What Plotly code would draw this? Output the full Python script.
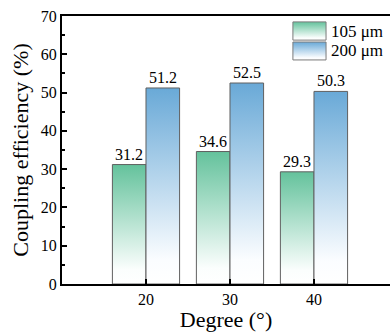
import plotly.graph_objects as go

degrees = [20, 30, 40]
eff_105 = [31.2, 34.6, 29.3]
eff_200 = [51.2, 52.5, 50.3]
series_names = ["105 μm", "200 μm"]
y_ticks = [0, 10, 20, 30, 40, 50, 60, 70]

FONT = "Liberation Serif"
bar_w = 4.0
green_scale = [[0, "#ffffff"], [0.12, "#fbfefd"], [1, "#64c29c"]]
blue_scale = [[0, "#ffffff"], [0.12, "#fbfdff"], [1, "#69a9d7"]]
scales = [green_scale, blue_scale]

fig = go.Figure()
annotations = []

def add_bars(values, offset, scale, name):
    for i, (d, v) in enumerate(zip(degrees, values)):
        x0 = d + offset - bar_w / 2
        x1 = d + offset + bar_w / 2
        fig.add_trace(go.Scatter(
            x=[x0, x0, x1, x1, x0], y=[0, v, v, 0, 0],
            mode="lines", fill="toself",
            fillgradient=dict(type="vertical", colorscale=scale, start=0, stop=v),
            line=dict(color="#606060", width=1),
            name=name, showlegend=False, hoverinfo="skip",
        ))
        annotations.append(dict(
            x=d + offset, y=v, xref="x", yref="y", text=f"{v:.1f}",
            showarrow=False, yanchor="bottom", yshift=0,
            font=dict(family=FONT, size=16, color="black"),
        ))

add_bars(eff_105, -bar_w / 2, green_scale, series_names[0])
add_bars(eff_200, bar_w / 2, blue_scale, series_names[1])

# legend drawn on an overlay axis in plot-fraction coordinates
leg_x0, leg_x1 = 0.704, 0.805
leg_rows = [(0.910, 0.978), (0.836, 0.903)]
for name, scale, (yb, yt) in zip(series_names, scales, leg_rows):
    fig.add_trace(go.Scatter(
        x=[leg_x0, leg_x0, leg_x1, leg_x1, leg_x0], y=[yb, yt, yt, yb, yb],
        xaxis="x2", yaxis="y2", mode="lines", fill="toself",
        fillgradient=dict(type="vertical", colorscale=scale, start=yb, stop=yt),
        line=dict(color="#7a7a7a", width=1),
        showlegend=False, hoverinfo="skip",
    ))
    annotations.append(dict(
        x=leg_x1 + 0.01, y=(yb + yt) / 2, xref="x domain", yref="y domain",
        text=name, showarrow=False, xanchor="left", yanchor="middle",
        font=dict(family=FONT, size=17, color="black"),
    ))

fig.update_layout(
    width=390, height=332,
    margin=dict(l=62, r=0, t=16, b=48),
    paper_bgcolor="white", plot_bgcolor="white",
    font=dict(family=FONT, size=16, color="black"),
    showlegend=False,
    annotations=annotations,
    xaxis2=dict(range=[0, 1], overlaying="x", visible=False, fixedrange=True),
    yaxis2=dict(range=[0, 1], overlaying="y", visible=False, fixedrange=True),
    xaxis=dict(
        range=[10, 49.05], tickvals=degrees, ticktext=[str(d) for d in degrees],
        showline=True, linecolor="black", linewidth=2, mirror=True,
        ticks="inside", ticklen=5, tickwidth=1.5, tickcolor="black",
        showgrid=False, zeroline=False,
        title=dict(text="Degree (°)", font=dict(family=FONT, size=22), standoff=0),
        tickfont=dict(family=FONT, size=16),
    ),
    yaxis=dict(
        range=[0, 70], tickvals=y_ticks,
        showline=True, linecolor="black", linewidth=2,
        ticks="inside", ticklen=5, tickwidth=1.5, tickcolor="black",
        minor=dict(ticks="inside", ticklen=3, dtick=5, tickcolor="black", tickwidth=1.5),
        showgrid=False, zeroline=False,
        title=dict(text="Coupling efficiency (%)", font=dict(family=FONT, size=22), standoff=6),
        tickfont=dict(family=FONT, size=16),
    ),
)

fig.write_html("out.html")
